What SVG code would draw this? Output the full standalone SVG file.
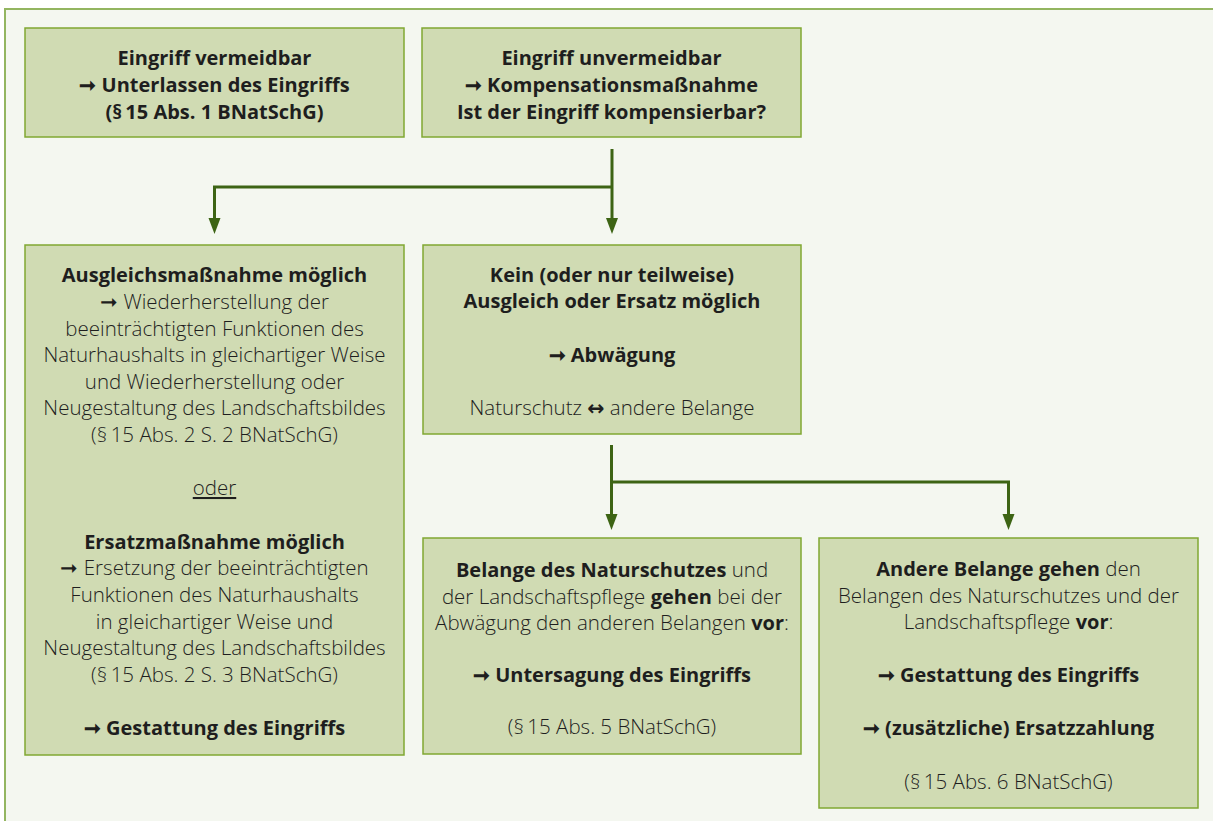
<svg xmlns="http://www.w3.org/2000/svg" width="1213" height="821" viewBox="0 0 1213 821">
<defs>
<style>
.box{fill:#d0dbb3;stroke:#80a832;stroke-width:1.5}
.t{font-family:"Open Sans","Noto Sans","Liberation Sans",sans-serif;font-size:20.5px;fill:#1e1e1e;text-anchor:middle;font-weight:300}
.b{font-weight:700;font-size:20px}
.ar{font-family:"DejaVu Sans",sans-serif;font-weight:700}
.con{fill:none;stroke:#3d6414;stroke-width:3}
</style>
</defs>
<rect x="5" y="9" width="1220" height="830" fill="#f4f7f0" stroke="#93b560" stroke-width="2"/>
<g id="connectors">
<path class="con" d="M612,149 V222"/>
<path class="con" d="M612,187 H214.5 V222"/>
<polygon points="606,218 618,218 612,234" fill="#3d6414"/>
<polygon points="208.5,218 220.5,218 214.5,234" fill="#3d6414"/>
<path class="con" d="M611.5,445 V518"/>
<path class="con" d="M611.5,482 H1008.5 V518"/>
<polygon points="605.5,514 617.5,514 611.5,530" fill="#3d6414"/>
<polygon points="1002.5,514 1014.5,514 1008.5,530" fill="#3d6414"/>
</g>
<g id="n1">
<rect class="box" x="25" y="28" width="379" height="109"/>
<text class="t b" x="214.5" y="65">Eingriff vermeidbar</text>
<text class="t b" x="214.5" y="92">➞ Unterlassen des Eingriffs</text>
<text class="t b" x="214.5" y="119">(§&#8201;15 Abs. 1 BNatSchG)</text>
</g>
<g id="n2">
<rect class="box" x="422" y="28" width="379" height="109"/>
<text class="t b" x="611.5" y="65">Eingriff unvermeidbar</text>
<text class="t b" x="611.5" y="92">➞ Kompensationsmaßnahme</text>
<text class="t b" x="611.5" y="119">Ist der Eingriff kompensierbar?</text>
</g>
<g id="n3">
<rect class="box" x="25" y="245" width="379" height="510"/>
<text class="t b" x="214.5" y="282">Ausgleichsmaßnahme möglich</text>
<text class="t" x="214.5" y="309">➞ Wiederherstellung der</text>
<text class="t" x="214.5" y="336">beeinträchtigten Funktionen des</text>
<text class="t" x="214.5" y="362">Naturhaushalts in gleichartiger Weise</text>
<text class="t" x="214.5" y="389">und Wiederherstellung oder</text>
<text class="t" x="214.5" y="415">Neugestaltung des Landschaftsbildes</text>
<text class="t" x="214.5" y="442">(§&#8201;15 Abs. 2 S. 2 BNatSchG)</text>
<text class="t" x="214.5" y="495" text-decoration="underline">oder</text>
<text class="t b" x="214.5" y="549">Ersatzmaßnahme möglich</text>
<text class="t" x="214.5" y="575">➞ Ersetzung der beeinträchtigten</text>
<text class="t" x="214.5" y="602">Funktionen des Naturhaushalts</text>
<text class="t" x="214.5" y="629">in gleichartiger Weise und</text>
<text class="t" x="214.5" y="655">Neugestaltung des Landschaftsbildes</text>
<text class="t" x="214.5" y="682">(§&#8201;15 Abs. 2 S. 3 BNatSchG)</text>
<text class="t b" x="214.5" y="735">➞ Gestattung des Eingriffs</text>
</g>
<g id="n4">
<rect class="box" x="423" y="245" width="378" height="189"/>
<text class="t b" x="612" y="282">Kein (oder nur teilweise)</text>
<text class="t b" x="612" y="308">Ausgleich oder Ersatz möglich</text>
<text class="t b" x="612" y="362">➞ Abwägung</text>
<text class="t" x="612" y="415">Naturschutz <tspan class="ar">↔</tspan> andere Belange</text>
</g>
<g id="n5">
<rect class="box" x="423" y="538" width="378" height="216"/>
<text class="t" x="612" y="577"><tspan class="b">Belange des Naturschutzes</tspan> und</text>
<text class="t" x="612" y="604">der Landschaftspflege <tspan class="b">gehen</tspan> bei der</text>
<text class="t" x="612" y="630">Abwägung den anderen Belangen <tspan class="b">vor</tspan>:</text>
<text class="t b" x="612" y="682">➞ Untersagung des Eingriffs</text>
<text class="t" x="612" y="734">(§&#8201;15 Abs. 5 BNatSchG)</text>
</g>
<g id="n6">
<rect class="box" x="819" y="538" width="379" height="270"/>
<text class="t" x="1008.5" y="576"><tspan class="b">Andere Belange gehen</tspan> den</text>
<text class="t" x="1008.5" y="603">Belangen des Naturschutzes und der</text>
<text class="t" x="1008.5" y="629">Landschaftspflege <tspan class="b">vor</tspan>:</text>
<text class="t b" x="1008.5" y="682">➞ Gestattung des Eingriffs</text>
<text class="t b" x="1008.5" y="735">➞ (zusätzliche) Ersatzzahlung</text>
<text class="t" x="1008.5" y="789">(§&#8201;15 Abs. 6 BNatSchG)</text>
</g>
</svg>
